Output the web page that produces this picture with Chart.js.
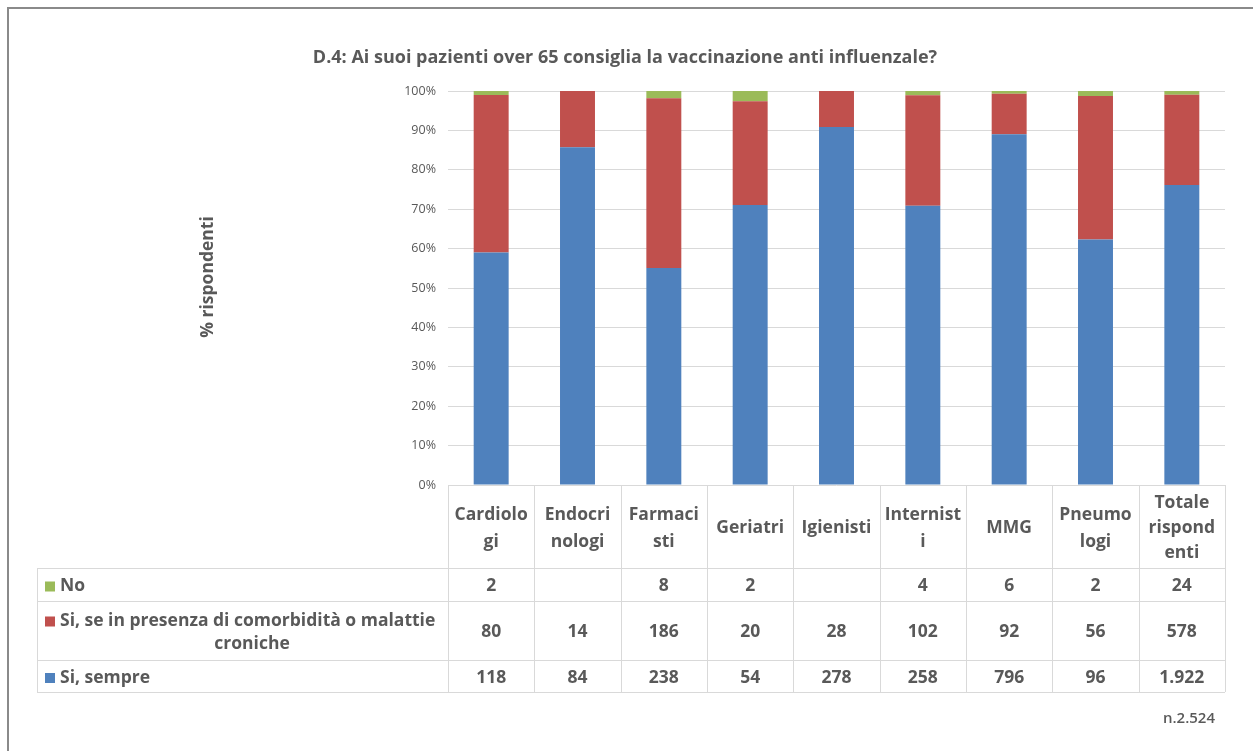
<!DOCTYPE html>
<html>
<head>
<meta charset="utf-8">
<title>D.4 vaccinazione anti influenzale</title>
<script src="https://cdn.jsdelivr.net/npm/chart.js@4/dist/chart.umd.min.js"></script>
<style>
  html, body { margin: 0; padding: 0; background: #fff; }
  #wrap { width: 1253px; height: 751px; position: relative; }
</style>
</head>
<body>
<div id="wrap"><canvas id="vaxChart" width="1253" height="751"></canvas></div>
<script>
// categorie (a capo come nella tabella dati)
const categories = [
  ['Cardiolo', 'gi'], ['Endocri', 'nologi'], ['Farmaci', 'sti'], ['Geriatri'],
  ['Igienisti'], ['Internist', 'i'], ['MMG'], ['Pneumo', 'logi'], ['Totale', 'rispond', 'enti']
];
// risposte (numero di rispondenti)
const siSempre = [118, 84, 238, 54, 278, 258, 796, 96, 1922];
const siComorbidita = [80, 14, 186, 20, 28, 102, 92, 56, 578];
const no = [2, null, 8, 2, null, 4, 6, 2, 24];
const yTicks = [0, 10, 20, 30, 40, 50, 60, 70, 80, 90, 100];

const seriesLabels = {
  no: 'No',
  comorb: ['Si, se in presenza di comorbidità o malattie', 'croniche'],
  sempre: 'Si, sempre'
};

const COL_BLUE = '#4F81BD';
const COL_RED = '#C0504D';
const COL_GREEN = '#9BBB59';
const TXT = '#595959';
const LINE = '#d9d9d9';
const FONT = '"Open Sans", sans-serif';

const totals = categories.map((c, i) => siSempre[i] + siComorbidita[i] + (no[i] || 0));
const pct = arr => arr.map((v, i) => (v || 0) / totals[i] * 100);

function fmt(n) {
  if (n === null || n === undefined) return '';
  return String(n).replace(/\B(?=(\d{3})+(?!\d))/g, '.');
}

// tabella dati sotto il grafico + titolo + cornice
const tablePlugin = {
  id: 'dataTable',
  afterDraw(chart) {
    const ctx = chart.ctx;
    const x = chart.scales.x;
    const area = chart.chartArea;
    const colW = x.getPixelForValue(1) - x.getPixelForValue(0);
    const left = 37;
    const rows = [area.bottom, 568, 601, 660, 692];
    const dy = 2; // 'middle' di Open Sans sta un po' alto

    ctx.save();
    // cornice
    ctx.strokeStyle = '#8a8a8a';
    ctx.lineWidth = 2;
    ctx.beginPath();
    ctx.moveTo(8, 751);
    ctx.lineTo(8, 8);
    ctx.lineTo(1253, 8);
    ctx.stroke();

    // titolo
    ctx.fillStyle = TXT;
    ctx.font = 'bold 18px ' + FONT;
    ctx.textAlign = 'center';
    ctx.textBaseline = 'middle';
    ctx.fillText('D.4: Ai suoi pazienti over 65 consiglia la vaccinazione anti influenzale?', 625, 58);

    // titolo asse y
    ctx.save();
    ctx.translate(208, 277);
    ctx.rotate(-Math.PI / 2);
    ctx.font = 'bold 17.5px ' + FONT;
    ctx.fillText('% rispondenti', 0, 0);
    ctx.restore();

    // griglia tabella
    ctx.strokeStyle = LINE;
    ctx.lineWidth = 1;
    ctx.beginPath();
    const tableRight = area.right;
    for (let r = 1; r < rows.length; r++) {
      ctx.moveTo(left, rows[r] + 0.5);
      ctx.lineTo(tableRight, rows[r] + 0.5);
    }
    ctx.moveTo(left + 0.5, rows[1]);
    ctx.lineTo(left + 0.5, rows[4]);
    for (let i = 0; i <= categories.length; i++) {
      const xx = Math.round(area.left + i * colW) + 0.5;
      ctx.moveTo(xx, rows[0]);
      ctx.lineTo(xx, rows[4]);
    }
    ctx.stroke();

    // intestazioni colonne
    ctx.font = 'bold 17.5px ' + FONT;
    ctx.fillStyle = TXT;
    const hMid = (rows[0] + rows[1]) / 2 + dy;
    categories.forEach((lines, i) => {
      const cx = x.getPixelForValue(i);
      const lh = lines.length === 3 ? 25 : 27;
      const y0 = hMid - (lines.length - 1) * lh / 2;
      lines.forEach((ln, k) => ctx.fillText(ln, cx, y0 + k * lh));
    });

    // righe serie
    const rowDefs = [
      { label: [seriesLabels.no], color: COL_GREEN, data: no },
      { label: seriesLabels.comorb, color: COL_RED, data: siComorbidita },
      { label: [seriesLabels.sempre], color: COL_BLUE, data: siSempre }
    ];
    rowDefs.forEach((rd, r) => {
      const top = rows[r + 1], bot = rows[r + 2];
      const mid = (top + bot) / 2 + dy;
      if (rd.label.length === 1) {
        ctx.fillStyle = rd.color;
        ctx.fillRect(45, mid - 5, 10, 10);
        ctx.fillStyle = TXT;
        ctx.textAlign = 'left';
        ctx.fillText(rd.label[0], 60, mid);
      } else {
        const y1 = mid - 11, y2 = mid + 12;
        ctx.fillStyle = rd.color;
        ctx.fillRect(45, y1 - 5, 10, 10);
        ctx.fillStyle = TXT;
        ctx.textAlign = 'left';
        ctx.fillText(rd.label[0], 60, y1);
        ctx.textAlign = 'center';
        ctx.fillText(rd.label[1], 252, y2);
      }
      ctx.textAlign = 'center';
      rd.data.forEach((v, i) => {
        ctx.fillText(fmt(v), x.getPixelForValue(i), mid);
      });
    });

    // numerosità campione
    const n = totals[totals.length - 1];
    ctx.font = '600 15px ' + FONT;
    ctx.textAlign = 'center';
    ctx.fillText('n.' + fmt(n), 1189, 719);
    ctx.restore();
  }
};

const ctx = document.getElementById('vaxChart').getContext('2d');
new Chart(ctx, {
  type: 'bar',
  data: {
    labels: categories,
    datasets: [
      { label: seriesLabels.sempre, data: pct(siSempre), backgroundColor: COL_BLUE },
      { label: seriesLabels.comorb.join(' '), data: pct(siComorbidita), backgroundColor: COL_RED },
      { label: seriesLabels.no, data: pct(no), backgroundColor: COL_GREEN }
    ]
  },
  options: {
    responsive: false,
    animation: false,
    layout: { padding: { top: 91, right: 28, bottom: 266, left: 0 } },
    datasets: { bar: { categoryPercentage: 1, barPercentage: 0.405 } },
    plugins: { legend: { display: false }, tooltip: { enabled: false }, title: { display: false } },
    scales: {
      x: { stacked: true, display: false },
      y: {
        stacked: true,
        min: 0,
        max: 100,
        afterFit(scale) { scale.width = 448; },
        afterBuildTicks(scale) { scale.ticks = yTicks.map(v => ({ value: v })); },
        border: { display: false },
        grid: { color: LINE, drawTicks: false },
        ticks: {
          padding: 12,
          color: TXT,
          font: { family: FONT, size: 12.5 },
          callback: v => v + '%'
        }
      }
    }
  },
  plugins: [tablePlugin]
});
</script>
</body>
</html>
